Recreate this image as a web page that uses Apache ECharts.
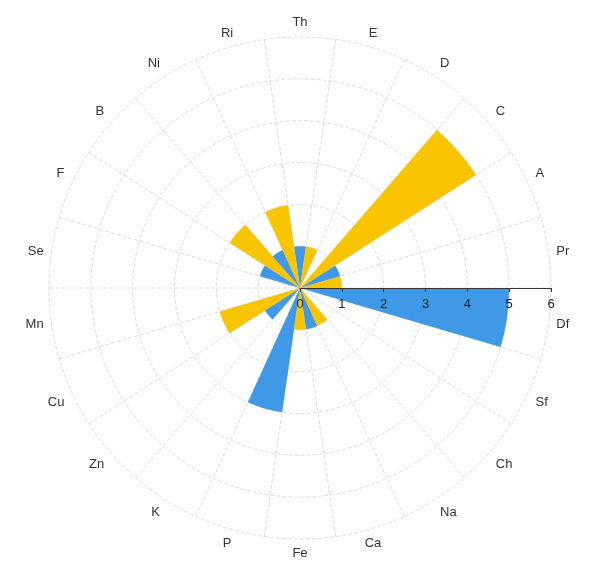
<!DOCTYPE html>
<html>
<head>
<meta charset="utf-8">
<script src="https://cdn.jsdelivr.net/npm/echarts@6/dist/echarts.min.js"></script>
<style>
    html, body { margin: 0; padding: 0; background: #fff; }
    #main { width: 600px; height: 584px; }
</style>
</head>
<body>
<div id="main"></div>
<script>
// categories clockwise, starting at 3 o'clock
var categories = ['Df', 'Sf', 'Ch', 'Na', 'Ca', 'Fe', 'P', 'K', 'Zn', 'Cu', 'Mn',
    'Se', 'F', 'B', 'Ni', 'Ri', 'Th', 'E', 'D', 'C', 'A', 'Pr'];
var blueValues = [5, 0, 0, 0, 1, 0, 3, 0, 1, 0, 0, 0, 1, 0, 1, 0, 1, 0, 0, 0, 1, 0];
var yellowValues = [0, 0, 0, 1, 0, 1, 0, 0, 0, 2, 0, 0, 0, 2, 0, 2, 0, 1, 0, 5, 0, 1];
var radiusTicks = [0, 1, 2, 3, 4, 5, 6];

var myChart = echarts.init(document.getElementById('main'));

var gridLine = {
    show: true,
    lineStyle: {
        color: '#dcdcdc',
        width: 1,
        type: 'dashed'
    }
};

// second polar only carries the radius axis line so it sits on top of the bars
var option = {
    backgroundColor: '#fff',
    animation: false,
    polar: [
        { center: [300, 288], radius: 251 },
        { center: [300, 288], radius: 251 }
    ],
    angleAxis: [
        {
            polarIndex: 0,
            type: 'category',
            data: categories,
            startAngle: 0,
            clockwise: true,
            boundaryGap: true,
            axisLine: { show: false },
            axisTick: { show: false },
            axisLabel: {
                color: '#333',
                fontSize: 13,
                margin: 8
            },
            splitLine: gridLine
        },
        {
            polarIndex: 1,
            type: 'category',
            data: categories,
            startAngle: 0,
            show: false
        }
    ],
    radiusAxis: [
        {
            polarIndex: 0,
            type: 'value',
            min: radiusTicks[0],
            max: radiusTicks[radiusTicks.length - 1],
            interval: 1,
            axisLine: { show: false },
            axisTick: { show: false },
            axisLabel: { show: false },
            splitLine: gridLine
        },
        {
            polarIndex: 1,
            type: 'value',
            min: radiusTicks[0],
            max: radiusTicks[radiusTicks.length - 1],
            interval: 1,
            axisLine: {
                lineStyle: { color: '#333', width: 1 }
            },
            axisTick: {
                show: true,
                length: -4,
                lineStyle: { color: '#333' }
            },
            axisLabel: {
                color: '#222',
                fontSize: 13,
                verticalAlign: 'top',
                margin: -10
            },
            splitLine: { show: false },
            z: 10
        }
    ],
    series: [
        {
            name: 'blue',
            type: 'bar',
            coordinateSystem: 'polar',
            polarIndex: 0,
            stack: 'total',
            barCategoryGap: '0%',
            data: blueValues,
            itemStyle: { color: '#3f99e6' }
        },
        {
            name: 'yellow',
            type: 'bar',
            coordinateSystem: 'polar',
            polarIndex: 0,
            stack: 'total',
            barCategoryGap: '0%',
            data: yellowValues,
            itemStyle: { color: '#f9c400' }
        }
    ]
};
myChart.setOption(option);
</script>
</body>
</html>
